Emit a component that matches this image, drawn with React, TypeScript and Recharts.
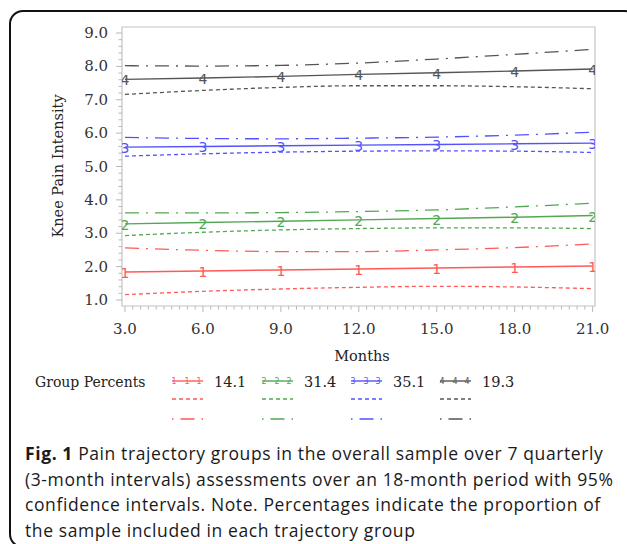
import React from "react";
import { LineChart, Line, XAxis, YAxis, ReferenceArea } from "recharts";

// months of each quarterly assessment
const months = [3, 6, 9, 12, 15, 18, 21];
const xMajorTicks = [3, 6, 9, 12, 15, 18, 21];
const yMajorTicks = [1, 2, 3, 4, 5, 6, 7, 8, 9];

// group 1 (14.1%)
const g1Mean = [1.84, 1.87, 1.9, 1.93, 1.96, 1.99, 2.02];
const g1Lower = [1.16, 1.26, 1.33, 1.38, 1.41, 1.39, 1.34];
const g1Upper = [2.56, 2.49, 2.45, 2.45, 2.5, 2.57, 2.68];

// group 2 (31.4%)
const g2Mean = [3.28, 3.32, 3.36, 3.4, 3.44, 3.48, 3.53];
const g2Lower = [2.93, 3.03, 3.1, 3.14, 3.16, 3.16, 3.14];
const g2Upper = [3.61, 3.61, 3.62, 3.65, 3.7, 3.79, 3.9];

// group 3 (35.1%)
const g3Mean = [5.58, 5.6, 5.62, 5.64, 5.66, 5.68, 5.7];
const g3Lower = [5.31, 5.38, 5.43, 5.46, 5.47, 5.46, 5.42];
const g3Upper = [5.87, 5.84, 5.83, 5.85, 5.88, 5.94, 6.03];

// group 4 (19.3%)
const g4Mean = [7.61, 7.65, 7.7, 7.76, 7.81, 7.86, 7.92];
const g4Lower = [7.16, 7.28, 7.37, 7.42, 7.42, 7.39, 7.33];
const g4Upper = [8.02, 8.01, 8.03, 8.1, 8.22, 8.36, 8.51];

const groupPercents = ["14.1", "31.4", "35.1", "19.3"];

const captionLines = [
  "Pain trajectory groups in the overall sample over 7 quarterly",
  "(3-month intervals) assessments over an 18-month period with 95%",
  "confidence intervals. Note. Percentages indicate the proportion of",
  "the sample included in each trajectory group",
];

const groups = [
  { key: "g1", digit: "1", color: "#ff5a5a", mean: g1Mean, lower: g1Lower, upper: g1Upper },
  { key: "g2", digit: "2", color: "#52a852", mean: g2Mean, lower: g2Lower, upper: g2Upper },
  { key: "g3", digit: "3", color: "#5252ff", mean: g3Mean, lower: g3Lower, upper: g3Upper },
  { key: "g4", digit: "4", color: "#555555", mean: g4Mean, lower: g4Lower, upper: g4Upper },
];

const data = months.map((m, i) => {
  const row: Record<string, number> = { month: m };
  groups.forEach((g) => {
    row[g.key] = g.mean[i];
    row[g.key + "lo"] = g.lower[i];
    row[g.key + "hi"] = g.upper[i];
  });
  return row;
});

const X_DOMAIN: [number, number] = [2.885, 21.09];
const Y_DOMAIN: [number, number] = [0.82, 9.18];

// minor ticks: x every 0.3 months, y every 0.2
const xTicks: number[] = [];
for (let i = 0; i <= 60; i++) xTicks.push(Math.round((3 + i * 0.3) * 10) / 10);
const yTicks: number[] = [];
for (let i = 0; i <= 40; i++) yTicks.push(Math.round((1 + i * 0.2) * 10) / 10);

const SERIF = "'DejaVu Serif', serif";
const DASH = "4 3";
const DASH_DOT = "14 7 2 7";
const AXIS_GRAY = "#b8b8b8";

const XTick = (props: any) => {
  const { x, y, payload } = props;
  const v = payload.value as number;
  const major = xMajorTicks.some((t) => Math.abs(t - v) < 1e-6);
  return (
    <g>
      <line x1={x} y1={y} x2={x} y2={y + (major ? 6 : 3.5)} stroke={AXIS_GRAY} />
      {major && (
        <text x={x} y={y + 28} textAnchor="middle" fontFamily={SERIF} fontSize={15} fill="#333">
          {v.toFixed(1)}
        </text>
      )}
    </g>
  );
};

const YTick = (props: any) => {
  const { x, y, payload } = props;
  const v = payload.value as number;
  const major = yMajorTicks.some((t) => Math.abs(t - v) < 1e-6);
  return (
    <g>
      <line x1={x - (major ? 6 : 3.5)} y1={y} x2={x} y2={y} stroke={AXIS_GRAY} />
      {major && (
        <text x={x - 14} y={y + 5} textAnchor="end" fontFamily={SERIF} fontSize={15} fill="#333">
          {v.toFixed(1)}
        </text>
      )}
    </g>
  );
};

const digitDot = (digit: string, color: string) => (props: any) => {
  const { cx, cy, index } = props;
  return (
    <text
      key={index}
      x={cx}
      y={cy + 6}
      textAnchor="middle"
      fontFamily="'DejaVu Sans', sans-serif"
      fontSize={14}
      fill={color}
    >
      {digit}
    </text>
  );
};

const legendX = [172, 262, 351, 440];

export default function App() {
  return (
    <div
      style={{
        position: "absolute",
        left: 0,
        top: 0,
        width: 627,
        height: 544,
        overflow: "hidden",
        background: "#fff",
      }}
    >
      <div
        style={{
          position: "absolute",
          left: 9,
          top: 10,
          width: 626,
          height: 534,
          border: "2px solid #111",
          borderRadius: 14,
        }}
      />
      <div style={{ position: "absolute", left: 0, top: 0 }}>
        <LineChart
          width={627}
          height={345}
          data={data}
          margin={{ top: 27, right: 32, left: 0, bottom: 0 }}
        >
          <XAxis
            dataKey="month"
            type="number"
            domain={X_DOMAIN}
            allowDataOverflow
            ticks={xTicks}
            interval={0}
            tick={<XTick />}
            tickLine={false}
            tickSize={0}
            tickMargin={0}
            axisLine={false}
            height={39}
          />
          <YAxis
            type="number"
            domain={Y_DOMAIN}
            allowDataOverflow
            ticks={yTicks}
            interval={0}
            tick={<YTick />}
            tickLine={false}
            tickSize={0}
            tickMargin={0}
            axisLine={false}
            width={122}
          />
          <ReferenceArea
            x1={X_DOMAIN[0]}
            x2={X_DOMAIN[1]}
            y1={Y_DOMAIN[0]}
            y2={Y_DOMAIN[1]}
            fill="none"
            stroke="#c4c4c4"
            strokeWidth={1.2}
            ifOverflow="visible"
          />
          {groups.map((g) => (
            <Line
              key={g.key + "lo"}
              dataKey={g.key + "lo"}
              type="monotone"
              stroke={g.color}
              strokeWidth={1.3}
              strokeDasharray={DASH}
              dot={false}
              activeDot={false}
              isAnimationActive={false}
            />
          ))}
          {groups.map((g) => (
            <Line
              key={g.key + "hi"}
              dataKey={g.key + "hi"}
              type="monotone"
              stroke={g.color}
              strokeWidth={1.3}
              strokeDasharray={DASH_DOT}
              dot={false}
              activeDot={false}
              isAnimationActive={false}
            />
          ))}
          {groups.map((g) => (
            <Line
              key={g.key}
              dataKey={g.key}
              type="linear"
              stroke={g.color}
              strokeWidth={1.4}
              dot={digitDot(g.digit, g.color)}
              activeDot={false}
              isAnimationActive={false}
            />
          ))}
        </LineChart>
      </div>
      <svg
        width={627}
        height={440}
        style={{ position: "absolute", left: 0, top: 0, pointerEvents: "none" }}
      >
        <text
          transform="translate(63,166) rotate(-90)"
          textAnchor="middle"
          fontFamily={SERIF}
          fontSize={14.5}
          fill="#222"
        >
          Knee Pain Intensity
        </text>
        <text x={362} y={361} textAnchor="middle" fontFamily={SERIF} fontSize={14.5} fill="#222">
          Months
        </text>
        <text x={35} y={387} fontFamily={SERIF} fontSize={14} fill="#222">
          Group Percents
        </text>
        {groups.map((g, i) => {
          const x0 = legendX[i];
          return (
            <g key={g.key}>
              <line x1={x0} y1={381} x2={x0 + 31} y2={381} stroke={g.color} strokeWidth={1.4} />
              {[2, 15, 27].map((dx) => (
                <text
                  key={dx}
                  x={x0 + dx}
                  y={384}
                  textAnchor="middle"
                  fontFamily="'DejaVu Sans', sans-serif"
                  fontSize={8}
                  fill={g.color}
                >
                  {g.digit}
                </text>
              ))}
              <text x={x0 + 42} y={387} fontFamily={SERIF} fontSize={14.5} fill="#222">
                {groupPercents[i]}
              </text>
              <line
                x1={x0}
                y1={399}
                x2={x0 + 31}
                y2={399}
                stroke={g.color}
                strokeWidth={1.3}
                strokeDasharray={DASH}
              />
              <line
                x1={x0}
                y1={419}
                x2={x0 + 31}
                y2={419}
                stroke={g.color}
                strokeWidth={1.3}
                strokeDasharray="1.5 7 14 7 2"
              />
            </g>
          );
        })}
      </svg>
      <div
        style={{
          position: "absolute",
          left: 25,
          top: 441,
          fontFamily: "'Open Sans', sans-serif",
          fontSize: 17.5,
          letterSpacing: "0.6px",
          lineHeight: "25.7px",
          color: "#1a1a1a",
          whiteSpace: "nowrap",
        }}
      >
        {captionLines.map((line, i) => (
          <div key={i}>
            {i === 0 && <b>Fig. 1 </b>}
            {line}
          </div>
        ))}
      </div>
    </div>
  );
}
